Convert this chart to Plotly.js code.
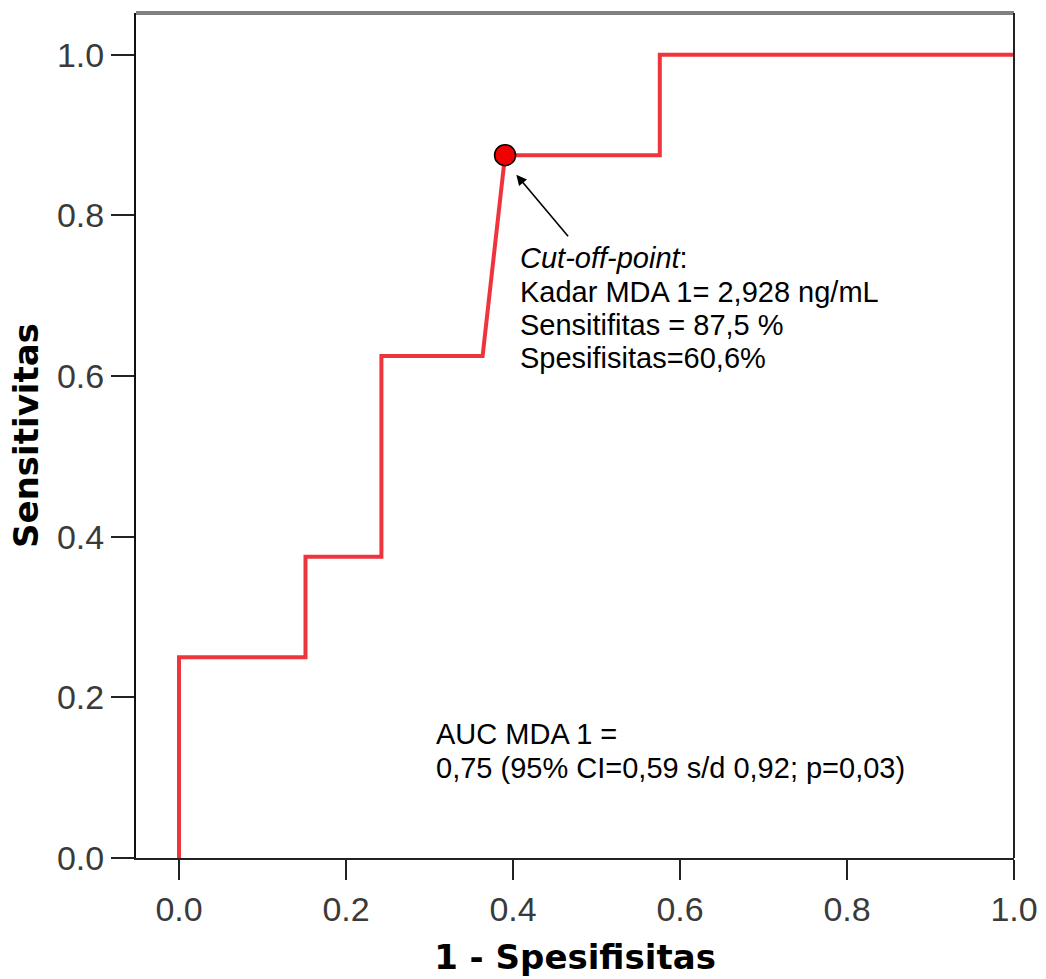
<!DOCTYPE html>
<html>
<head>
<meta charset="utf-8">
<script src="https://cdn.plot.ly/plotly-3.0.1.min.js"></script>
<style>html,body{margin:0;padding:0;background:#fff}#chart{width:1046px;height:979px}</style>
</head>
<body>
<div id="chart"></div>
<script>
// ROC curve values (1 - specificity, sensitivity)
var fpr = [0, 0, 0.1515, 0.1515, 0.2424, 0.2424, 0.3636, 0.3905, 0.5758, 0.5758, 1.0];
var tpr = [0, 0.25, 0.25, 0.375, 0.375, 0.625, 0.625, 0.875, 0.875, 1.0, 1.0];
var cutX = [0.3905];
var cutY = [0.875];
var tickVals = [0, 0.2, 0.4, 0.6, 0.8, 1.0];
var tickText = ["0.0", "0.2", "0.4", "0.6", "0.8", "1.0"];
var cutLines = ["<i>Cut-off-point</i>:", "Kadar MDA 1= 2,928 ng/mL", "Sensitifitas = 87,5 %", "Spesifisitas=60,6%"];
var cutLineY = [0.7472, 0.7049, 0.6638, 0.6227];
var aucLines = ["AUC MDA 1 =", "0,75 (95% CI=0,59 s/d 0,92; p=0,03)"];
var aucLineY = [0.1544, 0.1121];

var annFont = {family: "Liberation Sans, Arial, sans-serif", size: 29, color: "#000"};
var annotations = [];
cutLines.forEach(function (t, i) {
  annotations.push({x: 0.4065, y: cutLineY[i], xref: "x", yref: "y", text: t, showarrow: false,
    xanchor: "left", yanchor: "middle", font: annFont});
});
aucLines.forEach(function (t, i) {
  annotations.push({x: 0.3055, y: aucLineY[i], xref: "x", yref: "y", text: t, showarrow: false,
    xanchor: "left", yanchor: "middle", font: annFont});
});
// arrow pointing to cut-off point
annotations.push({x: 0.404, y: 0.8506, xref: "x", yref: "y", text: "", showarrow: true,
  ax: 53, ay: 63, arrowhead: 2, arrowsize: 1.3, arrowwidth: 1.6, arrowcolor: "#000"});

var traces = [
  {x: fpr, y: tpr, type: "scatter", mode: "lines", line: {color: "rgb(238,52,60)", width: 4},
   hoverinfo: "skip", cliponaxis: false},
  {x: cutX, y: cutY, type: "scatter", mode: "markers",
   marker: {color: "rgb(240,0,0)", size: 21, line: {color: "#000", width: 1.5}}, cliponaxis: false}
];

var tickFont = {family: "Liberation Sans, Arial, sans-serif", size: 34, color: "#3a3a3a"};
var titleFont = {family: "DejaVu Sans, sans-serif", size: 34, color: "#000", weight: "bold"};

var layout = {
  width: 1046, height: 979,
  margin: {l: 136, r: 32, t: 13, b: 121},
  paper_bgcolor: "#fff", plot_bgcolor: "#fff",
  showlegend: false,
  xaxis: {
    range: [-0.0515, 1.0], tickvals: tickVals, ticktext: tickText,
    showgrid: false, zeroline: false, showline: true, linecolor: "#222", linewidth: 2,
    ticks: "outside", ticklen: 20, tickwidth: 2, tickcolor: "#222",
    tickfont: tickFont,
    title: {text: "<b>1 - Spesifisitas</b>", font: titleFont, standoff: 18}
  },
  yaxis: {
    range: [0, 1.052], tickvals: tickVals, ticktext: tickText,
    showgrid: false, zeroline: false, showline: true, linecolor: "#111", linewidth: 2,
    ticks: "outside", ticklen: 23, tickwidth: 2, tickcolor: "#222",
    tickfont: tickFont,
    title: {text: "<b>Sensitivitas</b>", font: titleFont, standoff: 8}
  },
  shapes: [
    {type: "line", xref: "paper", yref: "paper", x0: 0, x1: 1, y0: 1, y1: 1,
     line: {color: "rgb(128,128,128)", width: 4}},
    {type: "line", xref: "paper", yref: "paper", x0: 1, x1: 1, y0: 0, y1: 1,
     line: {color: "#222", width: 2}}
  ],
  annotations: annotations
};

Plotly.newPlot("chart", traces, layout, {displayModeBar: false, staticPlot: true});
</script>
</body>
</html>
